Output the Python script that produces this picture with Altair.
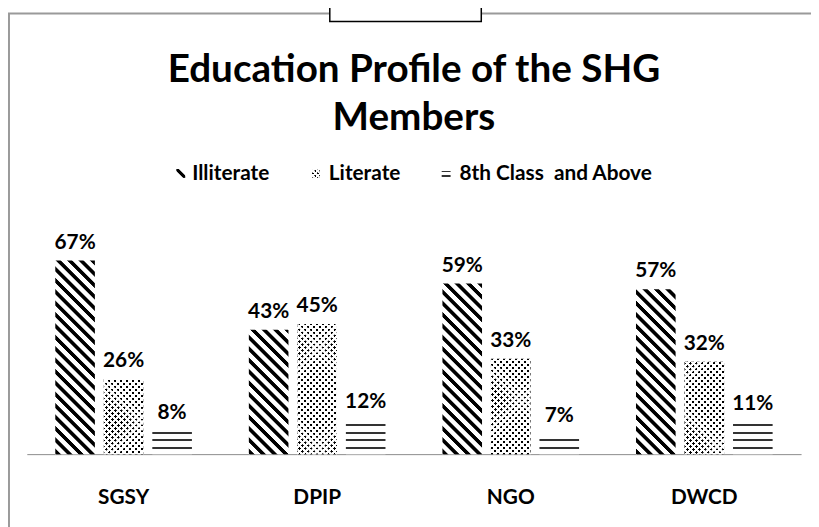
import altair as alt
import pandas as pd

# ---------------- data ----------------
categories = ["SGSY", "DPIP", "NGO", "DWCD"]
series = ["Illiterate", "Literate", "8th Class  and Above"]
illiterate = [67, 43, 59, 57]
literate = [26, 45, 33, 32]
above8 = [8, 12, 7, 11]
title_lines = ["Education Profile of the SHG", "Members"]

rows = []
for i, c in enumerate(categories):
    for s, vals in zip(series, [illiterate, literate, above8]):
        rows.append({"cat": c, "series": s, "value": vals[i], "label": f"{vals[i]}%"})
df = pd.DataFrame(rows)

# ---------------- geometry / style ----------------
PLOT_W, PLOT_H = 782, 292
BAR_W = 40.0
PX_PER = PLOT_H / 100.0
FONT = "Lato"
CLEAR = "rgba(255,255,255,0)"


def clamp(v):
    return max(0.0, min(1.0, round(v, 5)))


def diag_grad(h, w=BAR_W, period=11.5, dark=0.45, ramp=1.0, direction="back",
              ink="#000000", paper="#ffffff"):
    """Diagonal stripes in an objectBoundingBox gradient.
    direction 'back' = '\\' stripes, 'fwd' = '/' stripes."""
    L = w + h
    d = w * w + h * h
    pt = period / L
    r = ramp / L
    stops = []
    k = 0
    while k * pt < 1:
        a = k * pt
        b = a + dark * pt
        stops += [(a, paper), (a + r, ink), (b, ink), (b + r, paper)]
        k += 1
    stops.append((1.0, paper))
    if direction == "back":
        geo = {"x1": 0, "y1": 1, "x2": round(w * L / d, 5), "y2": round(1 - h * L / d, 5)}
    else:
        geo = {"x1": 0, "y1": 0, "x2": round(w * L / d, 5), "y2": round(h * L / d, 5)}
    g = {"gradient": "linear"}
    g.update(geo)
    g["stops"] = [{"offset": clamp(o), "color": c} for o, c in stops]
    return g


def dots_pair(h, w=BAR_W, period=6.0, dark=0.48):
    base = diag_grad(h, w, period=period, dark=dark, ramp=0.2, direction="fwd")
    over = diag_grad(h, w, period=period, dark=dark, ramp=0.2, direction="back",
                     ink=CLEAR, paper="#ffffff")
    return [base, over]


def hline_grad(h, first=6.0, period=7.8, thick=2.0, color="#333333"):
    centers = []
    dist = first
    while h - dist - thick / 2 >= -0.2:
        centers.append(h - dist)
        dist += period
    centers.sort()
    stops = [(0.0, "#ffffff")]
    for cy in centers:
        a = (cy - thick / 2) / h
        b = (cy + thick / 2) / h
        stops += [(a, "#ffffff"), (a, color), (b, color), (b, "#ffffff")]
    stops.append((1.0, "#ffffff"))
    return {"gradient": "linear", "x1": 0, "y1": 0, "x2": 0, "y2": 1,
            "stops": [{"offset": clamp(o), "color": c} for o, c in stops]}


# ---------------- encodings ----------------
x_enc = alt.X(
    "cat:N",
    sort=categories,
    scale=alt.Scale(domain=categories, paddingInner=0, paddingOuter=0),
    axis=alt.Axis(
        title=None, labelFont=FONT, labelFontWeight="bold", labelFontSize=21,
        labelColor="black", labelPadding=44, labelBaseline="middle", labelAngle=0,
        ticks=False, tickSize=0, grid=False, domainColor="#8c8c8c", domainWidth=1,
    ),
)
xo_enc = alt.XOffset(
    "series:N",
    sort=series,
    scale=alt.Scale(domain=series, paddingInner=9 / 49, paddingOuter=0.58673),
)
y_enc = alt.Y("value:Q", scale=alt.Scale(domain=[0, 100]), axis=None)

layers = []

for i, c in enumerate(categories):
    for s, vals in zip(series, [illiterate, literate, above8]):
        v = vals[i]
        h = v * PX_PER
        filt = (alt.datum.cat == c) & (alt.datum.series == s)
        base = alt.Chart(df).transform_filter(filt)
        if s == "Illiterate":
            grads = [diag_grad(h)]
        elif s == "Literate":
            grads = dots_pair(h)
        else:
            grads = [hline_grad(h)]
        for g in grads:
            layers.append(base.mark_bar(fill=g).encode(x=x_enc, xOffset=xo_enc, y=y_enc))

# value labels
layers.append(
    alt.Chart(df).mark_text(dy=-18, font=FONT, fontWeight="bold", fontSize=21, color="black")
    .encode(x=x_enc, xOffset=xo_enc, y=y_enc, text="label:N")
)


def one(text):
    return alt.Chart(alt.InlineData(values=[{"t": text}]))


# title lines
for txt, yy in zip(title_lines, [-84, -35]):
    layers.append(
        one(txt).mark_text(font=FONT, fontWeight="bold", fontSize=39, color="black",
                           align="center", baseline="alphabetic")
        .encode(x=alt.value(PLOT_W / 2), y=alt.value(yy), text="t:N")
    )

# legend (manual, patterned symbols)
LEG_Y = 9
sym_x = [151, 287, 419]
txt_x = [167, 305, 437]
sym_grads = [
    [{"gradient": "linear", "x1": 0, "y1": 1, "x2": 1, "y2": 0,
      "stops": [{"offset": 0, "color": "#ffffff"}, {"offset": 0.36, "color": "#ffffff"},
                {"offset": 0.40, "color": "#000000"}, {"offset": 0.62, "color": "#000000"},
                {"offset": 0.66, "color": "#ffffff"}, {"offset": 1, "color": "#ffffff"}]}],
    dots_pair(9, 9, period=5.0, dark=0.5),
    [hline_grad(9, first=2.0, period=4.5, thick=1.5, color="#333333")],
]
for s, sx, tx, grads in zip(series, sym_x, txt_x, sym_grads):
    for g in grads:
        layers.append(
            one(s).mark_rect(fill=g).encode(
                x=alt.value(sx), x2=alt.value(sx + 9),
                y=alt.value(LEG_Y - 5), y2=alt.value(LEG_Y + 4),
            )
        )
    layers.append(
        one(s.replace("  ", "\u00a0 ")).mark_text(font=FONT, fontWeight="bold", fontSize=21,
                                                 color="black", align="left", baseline="middle")
        .encode(x=alt.value(tx), y=alt.value(LEG_Y), text="t:N")
    )

# document frame decorations
layers.append(one("frame").mark_rule(color="#9a9a9a", strokeWidth=2).encode(
    x=alt.value(-19), x2=alt.value(800), y=alt.value(-153), y2=alt.value(-153)))
layers.append(one("frame").mark_rule(color="#9a9a9a", strokeWidth=2).encode(
    x=alt.value(-18), x2=alt.value(-18), y=alt.value(-153), y2=alt.value(370)))
layers.append(one("box").mark_rect(fill="white", stroke="black", strokeWidth=1.5).encode(
    x=alt.value(306), x2=alt.value(459), y=alt.value(-170), y2=alt.value(-145)))

chart = (
    alt.layer(*layers)
    .properties(
        width=PLOT_W, height=PLOT_H,
        autosize=alt.AutoSizeParams(type="none"),
        padding={"left": 19, "top": 156, "right": 10, "bottom": 71},
        background="white",
    )
    .configure_view(stroke="transparent")
)

chart.save("out.html", embed_options={"renderer": "svg", "actions": False})
